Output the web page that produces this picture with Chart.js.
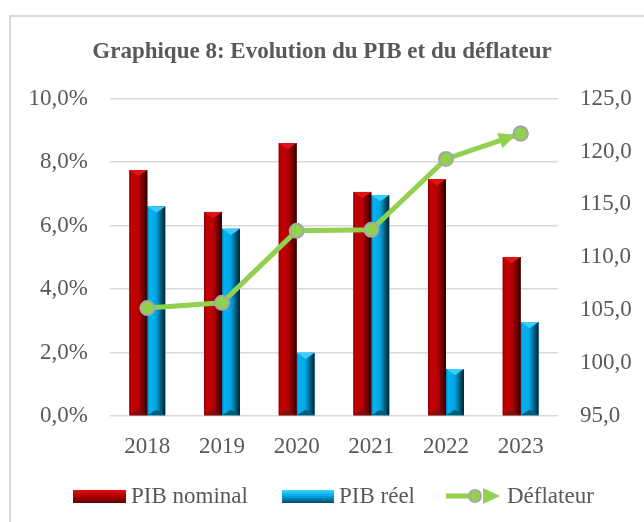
<!DOCTYPE html>
<html>
<head>
<meta charset="utf-8">
<script src="https://cdn.jsdelivr.net/npm/chart.js@4.4.1/dist/chart.umd.min.js"></script>
<style>
  html, body { margin: 0; padding: 0; width: 644px; height: 522px; overflow: hidden; background: #fff; }
  #frame { position: absolute; left: 9px; top: 15px; width: 700px; height: 600px; border: 2px solid #d9d9d9; }
  #chart { position: absolute; left: 0; top: 0; }
  .leg { position: absolute; font-family: "Liberation Serif", serif; font-size: 23px; color: #595959; line-height: 26px; top: 483px; white-space: nowrap; }
  .box { position: absolute; height: 13px; top: 490px; }
</style>
</head>
<body>
<div id="frame"></div>
<canvas id="chart" width="644" height="522"></canvas>
<div class="box" style="left:73px;width:53px;background:linear-gradient(to bottom,#e01010,#b00000 45%,#600000)"></div>
<div class="leg" style="left:131px">PIB nominal</div>
<div class="box" style="left:282px;width:52px;background:linear-gradient(to bottom,#40d0ff,#00a8e8 45%,#004a66)"></div>
<div class="leg" style="left:339px">PIB réel</div>
<svg style="position:absolute;left:446px;top:486px" width="56" height="20">
  <line x1="0" y1="10" x2="34" y2="10" stroke="#92D050" stroke-width="5"/>
  <circle cx="29" cy="10" r="6" fill="#92D050" stroke="#A6A6A6" stroke-width="2"/>
  <polygon points="37,2 54,10 37,18" fill="#92D050"/>
</svg>
<div class="leg" style="left:507px">Déflateur</div>
<script>
// données
const annees = ['2018', '2019', '2020', '2021', '2022', '2023'];
const pibNominal = [7.75, 6.43, 8.6, 7.06, 7.46, 5.01];
const pibReel = [6.6, 5.9, 1.99, 6.96, 1.48, 2.96];
const deflateur = [105.2, 105.7, 112.5, 112.6, 119.3, 121.7];

const grey = '#595959';
const serif = '"Liberation Serif", "Times New Roman", serif';

// relief des barres + fleche au bout de la courbe
const relief = {
    id: 'relief',
    afterDatasetDraw(chart, args) {
        const ds = chart.data.datasets[args.index];
        const ctx = chart.ctx;
        ctx.save();
        if (ds.type === 'bar') {
            const c = ds.shades;
            args.meta.data.forEach(function (bar) {
                const w = bar.width, l = bar.x - w / 2, r = bar.x + w / 2, t = bar.y, b = bar.base;
                const g = ctx.createLinearGradient(l, 0, r, 0);
                g.addColorStop(0, c[0]);
                g.addColorStop(0.12, c[1]);
                g.addColorStop(0.5, c[2]);
                g.addColorStop(0.78, c[3]);
                g.addColorStop(1, c[4]);
                ctx.fillStyle = g;
                ctx.fillRect(l, t, w, b - t);
                ctx.fillStyle = c[5];
                ctx.beginPath();
                ctx.moveTo(l, t); ctx.lineTo(r, t); ctx.lineTo(bar.x, t + w * 0.35);
                ctx.closePath(); ctx.fill();
                ctx.fillStyle = c[6];
                ctx.beginPath();
                ctx.moveTo(l, b); ctx.lineTo(r, b); ctx.lineTo(bar.x, b - w * 0.3);
                ctx.closePath(); ctx.fill();
            });
        } else {
            const pts = args.meta.data;
            const p0 = pts[pts.length - 2], p1 = pts[pts.length - 1];
            const a = Math.atan2(p1.y - p0.y, p1.x - p0.x);
            const tipX = p1.x - Math.cos(a) * 5, tipY = p1.y - Math.sin(a) * 5;
            ctx.translate(tipX, tipY);
            ctx.rotate(a);
            ctx.fillStyle = ds.borderColor;
            ctx.beginPath();
            ctx.moveTo(0, 0); ctx.lineTo(-17, -8); ctx.lineTo(-17, 8);
            ctx.closePath(); ctx.fill();
            ctx.setTransform(1, 0, 0, 1, 0, 0);
            p1.draw(ctx, chart.chartArea);
        }
        ctx.restore();
    }
};

new Chart(document.getElementById('chart'), {
    data: {
        labels: annees,
        datasets: [{
            type: 'line',
            label: 'Déflateur',
            data: deflateur,
            yAxisID: 'y1',
            borderColor: '#92D050',
            borderWidth: 5,
            pointRadius: 7,
            pointBackgroundColor: '#92D050',
            pointBorderColor: '#A6A6A6',
            pointBorderWidth: 2,
            order: 0
        }, {
            type: 'bar',
            label: 'PIB nominal',
            data: pibNominal,
            backgroundColor: '#C00000',
            shades: ['#8a0000', '#c40000', '#b80000', '#6a0000', '#2e0000', '#e01414', '#7a1010'],
            order: 1
        }, {
            type: 'bar',
            label: 'PIB réel',
            data: pibReel,
            backgroundColor: '#00B0F0',
            shades: ['#0080b0', '#00b4f4', '#00a4e0', '#005878', '#00202e', '#38ccff', '#0a5a7a'],
            order: 1
        }]
    },
    options: {
        responsive: false,
        animation: false,
        devicePixelRatio: 1,
        layout: { padding: 0 },
        datasets: {
            bar: { categoryPercentage: 0.48, barPercentage: 1 }
        },
        plugins: {
            legend: { display: false },
            tooltip: { enabled: false },
            title: {
                display: true,
                text: 'Graphique 8: Evolution du PIB et du déflateur',
                color: grey,
                font: { family: serif, size: 23, weight: 'bold' },
                padding: { top: 38, bottom: 33 }
            }
        },
        scales: {
            x: {
                grid: { display: false },
                border: { display: false },
                ticks: { color: grey, font: { family: serif, size: 23 }, padding: 9 },
                afterFit: function (s) { s.height = 106; }
            },
            y: {
                position: 'left',
                min: 0,
                max: 10,
                ticks: {
                    stepSize: 2,
                    color: grey,
                    padding: 22,
                    font: { family: serif, size: 23 },
                    callback: function (v) { return v.toFixed(1).replace('.', ',') + '%'; }
                },
                grid: { color: '#d9d9d9', lineWidth: 1.5, drawTicks: false },
                border: { display: false },
                afterFit: function (s) { s.width = 110; }
            },
            y1: {
                position: 'right',
                min: 95,
                max: 125,
                ticks: {
                    stepSize: 5,
                    color: grey,
                    padding: 22,
                    font: { family: serif, size: 23 },
                    callback: function (v) { return v.toFixed(1).replace('.', ','); }
                },
                grid: { display: false, drawTicks: false },
                border: { display: false },
                afterFit: function (s) { s.width = 86; }
            }
        }
    },
    plugins: [relief]
});
</script>
</body>
</html>
